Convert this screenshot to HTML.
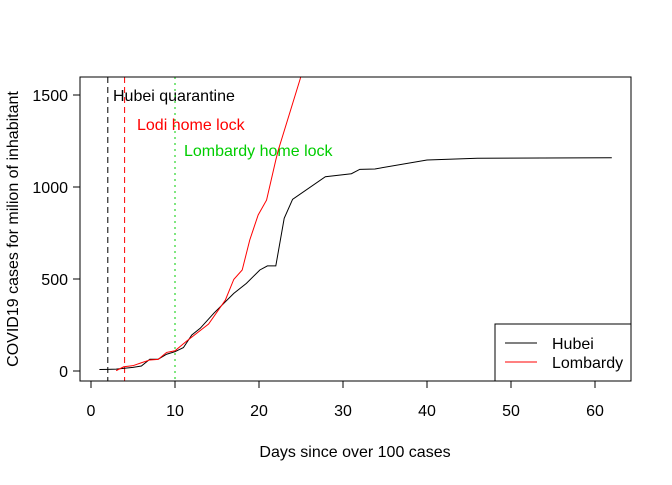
<!DOCTYPE html>
<html><head><meta charset="utf-8"><style>body{margin:0;background:#fff}svg{font-family:"Liberation Sans",Arial,sans-serif}</style></head>
<body>
<svg id="c" width="672" height="480"></svg>
<script>
const hubeiDays=[1,2,3,4,5,6,7,8,9,10,11,12,13,14.6,17,18.5,20.1,21,22,23,24,27.9,31,32,33.8,40,46,62];
const hubeiVals=[8,9,10,15,20,27,64,64,91,105,127,196,232,313,422,476,549,571,571,830,933,1056,1072,1096,1098,1147,1156,1159];
const lombDays=[3,3.9,5,6,7,8,9,10,11.4,14,16,17,18,18.9,19.9,20.9,22,22.3,24.9,26];
const lombVals=[2,23,29,45,60,63,101,110,163,255,386,498,549,712,848,929,1147,1201,1587,1800];
const xTicks=[0,10,20,30,40,50,60];
const yTicks=[0,500,1000,1500];
const events=[{d:2,label:"Hubei quarantine",color:"#000",dash:"6,4",tx:113,ty:101},{d:4,label:"Lodi home lock",color:"#ff0000",dash:"6,4",tx:137,ty:130},{d:10,label:"Lombardy home lock",color:"#00cd00",dash:"2,4",tx:184,ty:156}];
const X=d=>91+8.4*d, Y=v=>371-0.184*v;
const NS="http://www.w3.org/2000/svg", svg=document.getElementById('c');
function mk(t,a,p){const e=document.createElementNS(NS,t);for(const k in a)e.setAttribute(k,a[k]);(p||svg).appendChild(e);return e;}
const defs=mk('defs',{});const cp=mk('clipPath',{id:'cp'},defs);mk('rect',{x:80,y:77,width:551,height:304},cp);
const g=mk('g',{'clip-path':'url(#cp)'});
events.forEach(ev=>{const l=mk('line',{x1:X(ev.d),x2:X(ev.d),y1:77,y2:381,stroke:ev.color,'stroke-dasharray':ev.dash},g);


const t=mk('text',{x:ev.tx,y:ev.ty,fill:ev.color,'font-size':16},g);t.textContent=ev.label;

});
const h=mk('polyline',{points:hubeiDays.map((d,i)=>X(d)+','+Y(hubeiVals[i])).join(' '),fill:'none',stroke:'#000'},g);


const lo=mk('polyline',{points:lombDays.map((d,i)=>X(d)+','+Y(lombVals[i])).join(' '),fill:'none',stroke:'#ff0000'},g);


const box=mk('rect',{x:80,y:77,width:551,height:304,fill:'none',stroke:'#000'});


mk('line',{x1:X(0),x2:X(60),y1:381,y2:381,stroke:'#000'});
xTicks.forEach(v=>{mk('line',{x1:X(v),x2:X(v),y1:381,y2:388,stroke:'#000'});const t=mk('text',{x:X(v),y:416,'text-anchor':'middle','font-size':16});t.textContent=v;

});
yTicks.forEach(v=>{mk('line',{x1:73,x2:80,y1:Y(v),y2:Y(v),stroke:'#000'});const t=mk('text',{x:68,y:Y(v)+6,'text-anchor':'end','font-size':16});t.textContent=v;

});
mk('line',{x1:80,x2:80,y1:Y(0),y2:Y(1500),stroke:'#000'});
const xt=mk('text',{x:355,y:457,'text-anchor':'middle','font-size':16});xt.textContent='Days since over 100 cases';


const yt=mk('text',{x:18,y:229,'text-anchor':'middle','font-size':16,transform:'rotate(-90 18 229)'});yt.textContent='COVID19 cases for milion of inhabitant';


const lg=mk('g',{});


mk('rect',{x:495,y:324,width:136,height:57,fill:'#fff',stroke:'#000'},lg);
[['Hubei','#000',343],['Lombardy','#ff0000',362]].forEach(([n,c,y])=>{mk('line',{x1:505,x2:537,y1:y,y2:y,stroke:c},lg);const t=mk('text',{x:552,y:y+6,'font-size':16},lg);t.textContent=n;

});
</script>
</body></html>
